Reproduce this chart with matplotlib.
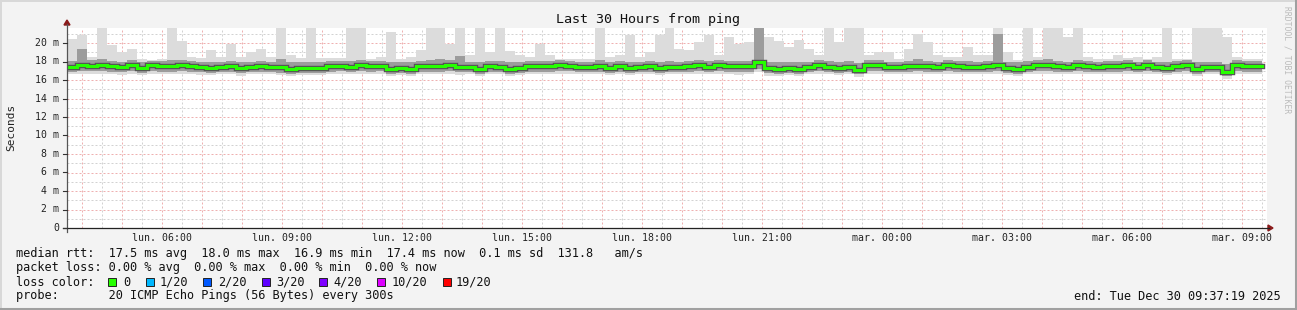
import numpy as np
import matplotlib
matplotlib.use("Agg")
import matplotlib.pyplot as plt
from matplotlib.patches import Rectangle, Polygon
from matplotlib.lines import Line2D

# ---------------- data (ms), 15-minute bins over 30 hours ----------------
start_hour = 3 + 37 / 60 + 19 / 3600  # Mon 03:37:19
ping_max = [20.4, 20.9, 18.5, 22.0, 19.8, 19.0, 19.4, 18.3, 18.2, 18.3,
            22.0, 20.2, 18.5, 18.4, 19.2, 18.5, 19.9, 18.5, 19.0, 19.4,
            18.5, 22.0, 18.7, 18.4, 22.0, 18.4, 18.4, 18.4, 22.0, 22.0,
            18.3, 18.5, 21.2, 18.3, 18.5, 19.2, 22.0, 22.0, 19.9, 22.0,
            18.7, 22.0, 19.0, 22.0, 19.1, 18.7, 18.5, 19.9, 18.7, 18.3,
            18.3, 18.3, 18.3, 22.0, 18.5, 18.7, 20.9, 18.5, 19.0, 20.9,
            22.0, 19.4, 19.2, 20.1, 20.9, 18.7, 20.7, 19.9, 20.1, 22.0,
            20.6, 20.2, 19.6, 20.3, 19.4, 18.7, 22.0, 20.1, 22.0, 22.0,
            18.7, 19.0, 19.0, 18.3, 19.4, 21.0, 20.1, 18.7, 18.5, 18.5,
            19.6, 18.7, 18.7, 22.0, 19.0, 18.2, 22.0, 18.5, 22.0, 22.0,
            20.6, 22.0, 18.5, 18.3, 18.3, 18.7, 18.4, 18.5, 18.3, 18.5,
            22.0, 18.3, 18.3, 22.0, 22.0, 22.0, 20.6, 18.5, 18.3, 18.3]
ping_hi = [18.1, 19.4, 18.2, 18.3, 18.1, 18.0, 18.2, 18.0, 18.1, 18.1,
           18.2, 18.2, 18.1, 18.0, 17.9, 18.0, 18.1, 17.9, 18.0, 18.1,
           18.0, 18.3, 17.9, 17.9, 18.0, 17.9, 18.1, 18.1, 18.1, 18.2,
           18.1, 18.1, 17.9, 17.9, 17.9, 18.1, 18.2, 18.3, 18.2, 18.6,
           18.0, 18.0, 18.1, 18.1, 17.9, 17.9, 18.1, 18.1, 18.1, 18.2,
           18.1, 18.0, 18.0, 18.2, 17.9, 18.1, 18.0, 18.0, 18.1, 18.0,
           18.1, 18.0, 18.1, 18.2, 18.1, 18.2, 18.1, 18.1, 18.1, 22.0,
           18.0, 17.9, 18.0, 17.9, 18.0, 18.2, 18.1, 18.0, 18.1, 17.8,
           18.2, 18.2, 18.0, 18.0, 18.1, 18.3, 18.1, 18.0, 18.2, 18.1,
           18.1, 18.0, 18.1, 21.0, 18.0, 17.9, 18.1, 18.2, 18.3, 18.1,
           18.0, 18.2, 18.1, 18.0, 18.1, 18.1, 18.2, 18.0, 18.2, 18.0,
           18.0, 18.1, 18.2, 17.9, 18.0, 18.0, 17.7, 18.2, 18.1, 18.1]
ping_median = [17.4, 17.65, 17.5, 17.6, 17.5, 17.4, 17.6, 17.35, 17.6, 17.5,
               17.5, 17.6, 17.5, 17.4, 17.35, 17.4, 17.5, 17.3, 17.4, 17.5,
               17.4, 17.4, 17.15, 17.3, 17.3, 17.3, 17.5, 17.5, 17.4, 17.6,
               17.5, 17.5, 17.2, 17.3, 17.2, 17.5, 17.5, 17.5, 17.6, 17.4,
               17.4, 17.2, 17.5, 17.4, 17.2, 17.3, 17.5, 17.5, 17.5, 17.6,
               17.55, 17.4, 17.4, 17.5, 17.3, 17.5, 17.3, 17.4, 17.5, 17.35,
               17.4, 17.4, 17.5, 17.6, 17.4, 17.6, 17.5, 17.5, 17.5, 17.95,
               17.3, 17.2, 17.35, 17.2, 17.4, 17.6, 17.4, 17.3, 17.4, 17.05,
               17.6, 17.6, 17.4, 17.4, 17.5, 17.55, 17.5, 17.4, 17.6, 17.5,
               17.4, 17.4, 17.5, 17.6, 17.3, 17.2, 17.4, 17.6, 17.65, 17.5,
               17.4, 17.6, 17.5, 17.4, 17.5, 17.5, 17.6, 17.4, 17.6, 17.4,
               17.35, 17.5, 17.6, 17.2, 17.4, 17.4, 16.9, 17.6, 17.5, 17.5]
ping_lo = [16.9, 17.0, 17.0, 17.0, 16.9, 16.9, 17.0, 16.8, 17.0, 16.9,
           16.9, 17.0, 16.9, 16.9, 16.8, 16.9, 16.9, 16.8, 16.9, 16.9,
           16.9, 16.8, 16.7, 16.8, 16.8, 16.8, 16.9, 17.0, 16.9, 17.0,
           16.9, 17.0, 16.7, 16.8, 16.7, 16.9, 16.9, 16.9, 17.0, 16.9,
           16.9, 16.7, 16.9, 16.9, 16.7, 16.8, 16.9, 16.9, 16.9, 17.0,
           17.0, 16.9, 16.9, 16.9, 16.8, 16.9, 16.8, 16.9, 16.9, 16.8,
           16.9, 16.9, 16.9, 17.0, 16.9, 17.0, 16.9, 16.9, 16.9, 17.2,
           16.8, 16.7, 16.8, 16.7, 16.9, 17.0, 16.9, 16.8, 16.9, 16.6,
           17.0, 17.0, 16.9, 16.9, 16.9, 17.0, 16.9, 16.9, 17.0, 16.9,
           16.9, 16.9, 16.9, 17.0, 16.8, 16.7, 16.9, 17.0, 17.0, 16.9,
           16.9, 17.0, 16.9, 16.9, 16.9, 16.9, 17.0, 16.9, 17.0, 16.9,
           16.8, 16.9, 17.0, 16.7, 16.9, 16.9, 16.4, 17.0, 16.9, 16.9]
ping_min = [16.6, 16.7, 16.7, 16.6, 16.6, 16.5, 16.7, 16.5, 16.7, 16.6,
            16.6, 16.7, 16.6, 16.5, 16.5, 16.6, 16.6, 16.4, 16.6, 16.6,
            16.6, 16.5, 16.4, 16.5, 16.5, 16.5, 16.6, 16.7, 16.6, 16.7,
            16.6, 16.6, 16.4, 16.5, 16.4, 16.6, 16.6, 16.6, 16.7, 16.5,
            16.6, 16.4, 16.6, 16.6, 16.4, 16.5, 16.6, 16.6, 16.6, 16.7,
            16.7, 16.6, 16.6, 16.6, 16.5, 16.6, 16.5, 16.6, 16.6, 16.5,
            16.6, 16.6, 16.6, 16.7, 16.6, 16.7, 16.6, 16.5, 16.6, 16.9,
            16.4, 16.4, 16.5, 16.4, 16.6, 16.7, 16.6, 16.5, 16.6, 16.3,
            16.7, 16.7, 16.6, 16.6, 16.6, 16.7, 16.6, 16.6, 16.7, 16.6,
            16.6, 16.6, 16.6, 16.7, 16.5, 16.4, 16.6, 16.7, 16.7, 16.6,
            16.6, 16.7, 16.6, 16.6, 16.6, 16.6, 16.7, 16.6, 16.7, 16.6,
            16.5, 16.6, 16.7, 16.4, 16.6, 16.6, 16.1, 16.7, 16.6, 16.6]

x_tick_labels = ['lun. 06:00', 'lun. 09:00', 'lun. 12:00', 'lun. 15:00',
                 'lun. 18:00', 'lun. 21:00', 'mar. 00:00', 'mar. 03:00',
                 'mar. 06:00', 'mar. 09:00']
x_tick_clock = [6, 9, 12, 15, 18, 21, 24, 27, 30, 33]
y_ticks = [0, 2, 4, 6, 8, 10, 12, 14, 16, 18, 20]
y_tick_labels = ['0', '2 m', '4 m', '6 m', '8 m', '10 m', '12 m', '14 m',
                 '16 m', '18 m', '20 m']

legend_rows = [
    "median rtt:  17.5 ms avg  18.0 ms max  16.9 ms min  17.4 ms now  0.1 ms sd  131.8   am/s",
    "packet loss: 0.00 % avg  0.00 % max  0.00 % min  0.00 % now",
    "loss color:",
    "probe:       20 ICMP Echo Pings (56 Bytes) every 300s",
]
loss_labels = ['0', '1/20', '2/20', '3/20', '4/20', '10/20', '19/20']
loss_colors = ['#26ff00', '#00b8ff', '#0059ff', '#5e00ff', '#7e00ff', '#dd00ff', '#ff0000']

# ---------------- figure ----------------
W, H = 1297, 310
fig = plt.figure(figsize=(W / 100, H / 100), dpi=100)
fig.patch.set_facecolor('#f3f3f3')

def fx(px):
    return px / W

def fy(py):
    return 1 - py / H

mono = 'DejaVu Sans Mono'
L, R, T, B = 67, 1267, 27.5, 228
ax = fig.add_axes([fx(L), fy(B), fx(R - L), (B - T) / H])
ax.set_facecolor('white')
ymax = (B - T) / 9.25
ax.set_xlim(0, 30)
ax.set_ylim(0, ymax)
for s in ax.spines.values():
    s.set_visible(False)
ax.set_xticks([])
ax.set_yticks([])

# grid
first_hour = np.ceil(start_hour) - start_hour
for k in range(31):
    hm = first_hour + k - 0.5
    if 0 < hm < 30:
        ax.axvline(hm, color='#d2d2d2', lw=0.72, ls=(0, (2, 2)), zorder=1)
    h = first_hour + k
    if 0 < h < 30:
        ax.axvline(h, color='#efb0b0', lw=0.72, ls=(0, (2, 2)), zorder=1)
for v in range(1, 22):
    if v % 2 == 1:
        ax.axhline(v, color='#d2d2d2', lw=0.72, ls=(0, (2, 2)), zorder=1)
    else:
        ax.axhline(v, color='#efb0b0', lw=0.72, ls=(0, (2, 2)), zorder=1)

# smoke
n = len(ping_median)
edges = np.linspace(0, 29.875, n + 1)

def ext(a):
    a = np.asarray(a, float)
    return np.append(a, a[-1])

ax.fill_between(edges, ext(ping_min), ext(ping_max), step='post',
                color='#dcdcdc', lw=0, zorder=2)
ax.fill_between(edges, ext(ping_lo), ext(ping_hi), step='post',
                color='#9c9c9c', lw=0, zorder=3)
ax.step(edges, ext(ping_median), where='post', color='#555555', lw=3.9,
        zorder=4, solid_joinstyle='miter')
ax.step(edges, ext(ping_median), where='post', color='#26ff00', lw=2.2,
        zorder=5, solid_joinstyle='miter')

# axes lines and arrows (figure coords)
fig.add_artist(Line2D([fx(L), fx(L)], [fy(B + 4), fy(24)], color='#555555', lw=0.9))
fig.add_artist(Line2D([fx(L - 4), fx(R + 2)], [fy(B), fy(B)], color='#222222', lw=0.9))
fig.add_artist(Polygon([[fx(L - 3), fy(25)], [fx(L + 3), fy(25)], [fx(L), fy(20)]],
                       closed=True, color='#8b1a1a'))
fig.add_artist(Polygon([[fx(R + 1), fy(B - 3)], [fx(R + 1), fy(B + 3)], [fx(R + 6), fy(B)]],
                       closed=True, color='#8b1a1a'))

# y ticks and labels
for v, lab in zip(y_ticks, y_tick_labels):
    py = B - v * 9.25
    fig.add_artist(Line2D([fx(L - 4), fx(L)], [fy(py), fy(py)], color='#333333', lw=0.8))
    fig.text(fx(59), fy(py), lab, ha='right', va='center', family=mono,
             fontsize=7.1, color='#222222')

# x labels
for c, lab in zip(x_tick_clock, x_tick_labels):
    px = L + (c - start_hour) * 40
    fig.text(fx(px), fy(238), lab, ha='center', va='center', family=mono,
             fontsize=7.1, color='#222222')

# title, y label, watermark
fig.text(fx(648), fy(19), 'Last 30 Hours from ping', ha='center', va='center',
         family=mono, fontsize=9.6, color='#111111')
fig.text(fx(11), fy(127), 'Seconds', ha='center', va='center', rotation=90,
         family=mono, fontsize=8.0, color='#222222')
fig.text(fx(1287), fy(60), 'RRDTOOL / TOBI OETIKER', ha='center', va='center',
         rotation=-90, family=mono, fontsize=5.8, color='#bbbbbb')

# legend
row_y = [254, 268, 282, 296]
for yy, txt in zip(row_y, legend_rows):
    fig.text(fx(16), fy(yy), txt, ha='left', va='center', family=mono,
             fontsize=8.6, color='#111111')
box_x = [108, 146, 203, 262, 319, 377, 443]
lab_x = [123, 160, 218, 276, 333, 392, 456]
for bx, lx, col, lab in zip(box_x, lab_x, loss_colors, loss_labels):
    fig.add_artist(Rectangle((fx(bx), fy(286)), fx(8), 8 / H, facecolor=col,
                             edgecolor='#222222', lw=0.7))
    fig.text(fx(lx), fy(282), lab, ha='left', va='center', family=mono,
             fontsize=8.6, color='#111111')
fig.text(fx(1281), fy(296), 'end: Tue Dec 30 09:37:19 2025', ha='right', va='center',
         family=mono, fontsize=8.6, color='#111111')

# frame
fig.add_artist(Line2D([0, 1], [fy(1), fy(1)], color='#d8d8d8', lw=1.4))
fig.add_artist(Line2D([fx(1), fx(1)], [0, 1], color='#d8d8d8', lw=1.4))
fig.add_artist(Line2D([0, 1], [fy(308.5), fy(308.5)], color='#a0a0a0', lw=2.2))
fig.add_artist(Line2D([fx(1295.5), fx(1295.5)], [0, 1], color='#a0a0a0', lw=2.2))

fig.savefig('out.png', dpi=100, facecolor=fig.get_facecolor())
